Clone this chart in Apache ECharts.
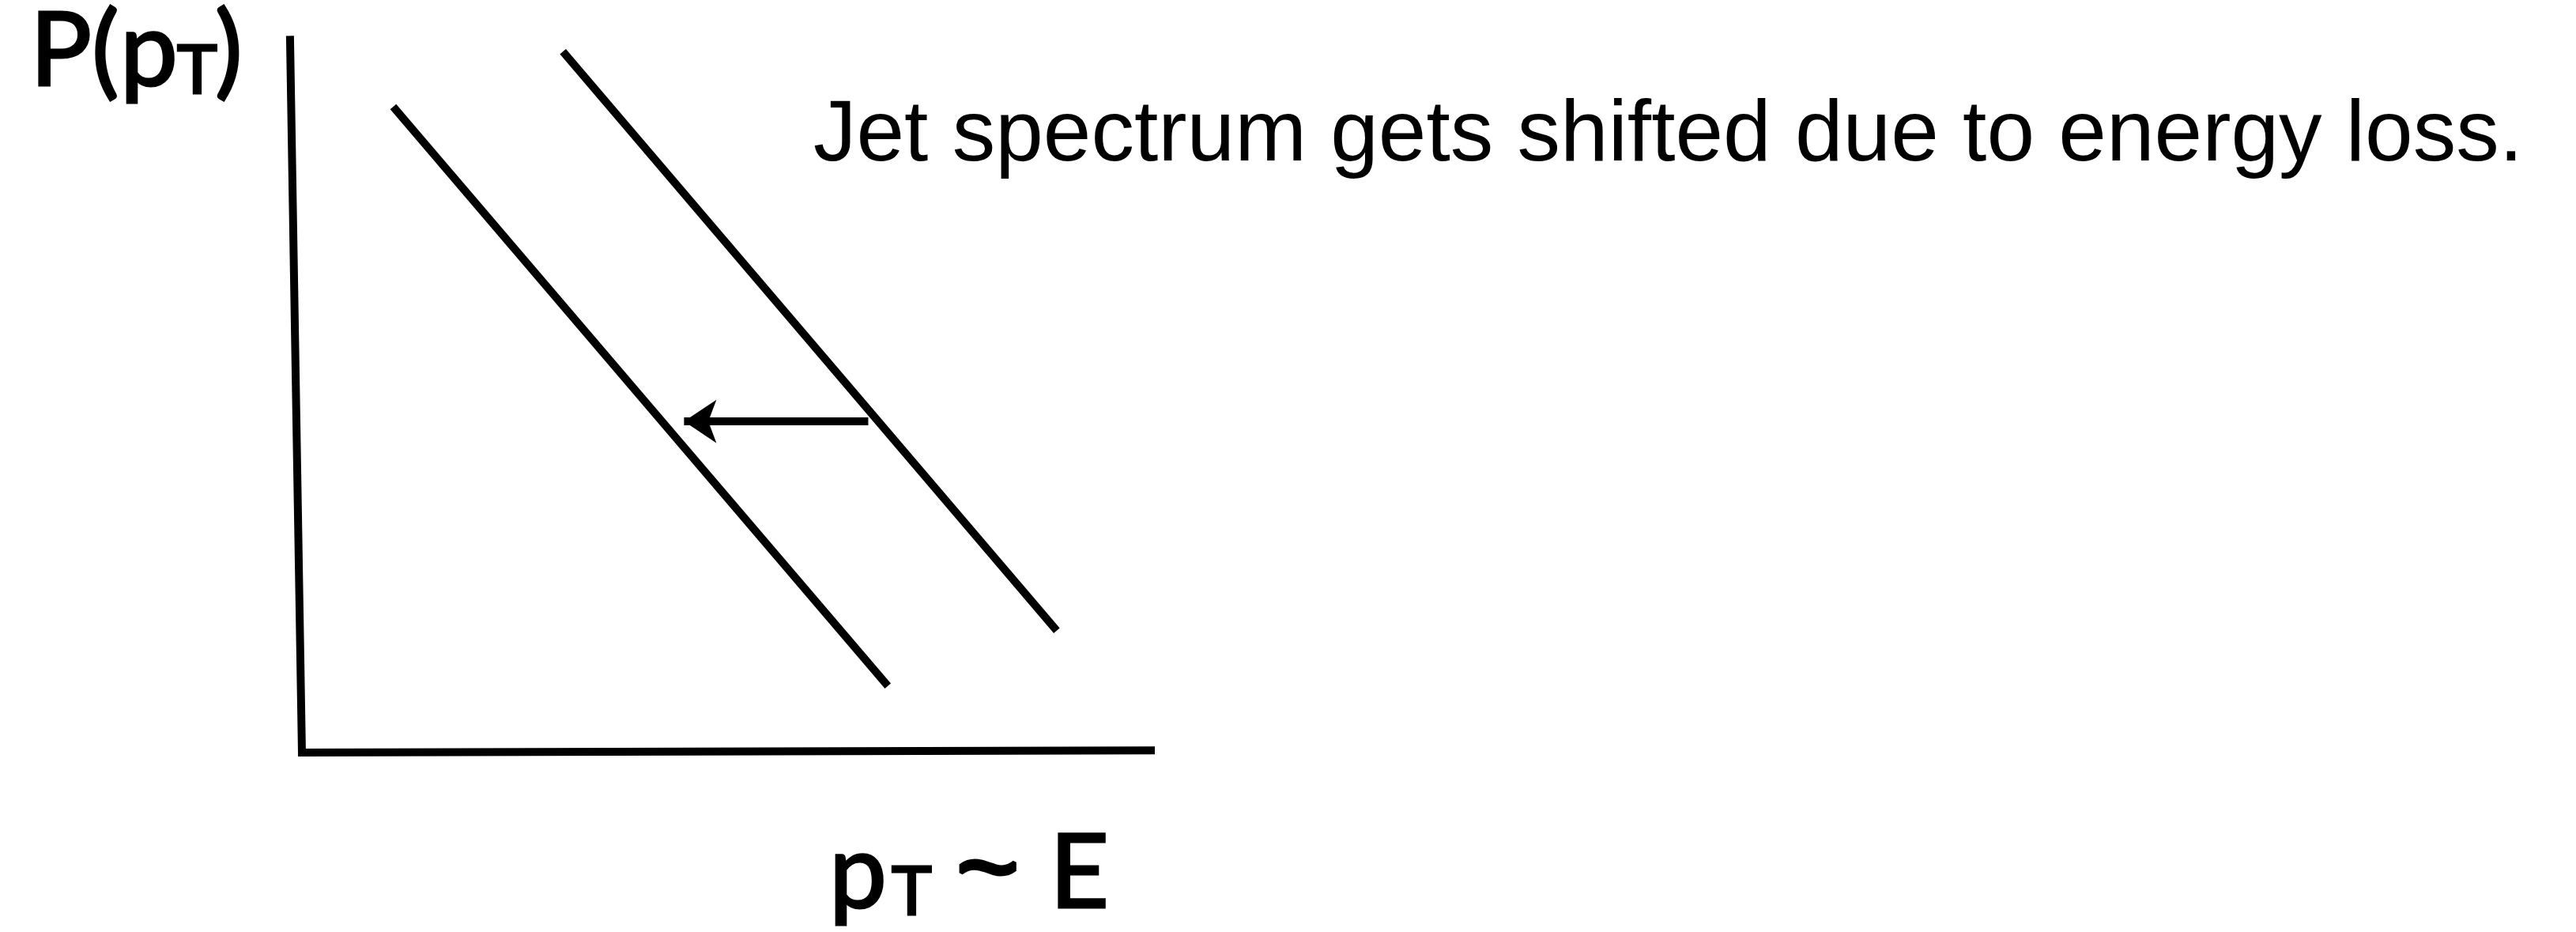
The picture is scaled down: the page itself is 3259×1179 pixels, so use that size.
<!DOCTYPE html>
<html>
<head>
<meta charset="utf-8">
<title>Jet spectrum shift</title>
<script src="https://cdn.jsdelivr.net/npm/echarts@6/dist/echarts.min.js"></script>
<style>
  html, body { margin: 0; padding: 0; background: #ffffff; }
  #chart { width: 3259px; height: 1179px; }
</style>
</head>
<body>
<div id="chart"></div>
<script>
// Sketch coordinates: pT on x, P(pT) on y, arbitrary units (origin at the axes corner).
const axisFrame = [[-1.4, 100], [0, 0], [100, 0.3]];
const spectrumOriginal = [[30.6, 97.8], [88.5, 17.0]];
const spectrumShifted = [[10.7, 90.1], [68.7, 9.3]];
const shiftArrow = [[66.4, 46.2], [44.8, 46.2]];

const headline = 'Jet spectrum gets shifted due to energy loss.';
const yLabelParts = ['P(', 'p', 'T', ')'];
const xLabelParts = ['p', 'T', '~', 'E'];

const chart = echarts.init(document.getElementById('chart'), null, { renderer: 'canvas' });

const ink = '#000000';
const strokeW = 10;
const sketchFont = 'Lato';

// Axis-label glyphs: regular weight thickened with a thin outline
function glyph(text, x, y, size, family, outline) {
  return {
    type: 'text',
    x: x,
    y: y,
    silent: true,
    style: {
      text: text,
      fill: ink,
      stroke: ink,
      lineWidth: outline === undefined ? 3 : outline,
      font: 'normal ' + size + 'px ' + (family || sketchFont),
      align: 'left',
      verticalAlign: 'middle'
    }
  };
}

const option = {
  backgroundColor: '#ffffff',
  animation: false,
  // x: 10.79 px per unit from -5; y: 9.067 px per unit up to 105
  grid: { left: 328.05, top: 0, width: 1132.95, height: 952, containLabel: false },
  xAxis: { type: 'value', min: -5, max: 100, show: false },
  yAxis: { type: 'value', min: 0, max: 105, show: false },
  series: [
    {
      name: 'axes',
      type: 'line',
      data: axisFrame,
      symbol: 'none',
      clip: false,
      lineStyle: { color: ink, width: strokeW, cap: 'butt', join: 'miter' }
    },
    {
      name: 'original',
      type: 'line',
      data: spectrumOriginal,
      symbol: 'none',
      clip: false,
      lineStyle: { color: ink, width: strokeW, cap: 'butt' }
    },
    {
      name: 'shifted',
      type: 'line',
      data: spectrumShifted,
      symbol: 'none',
      clip: false,
      lineStyle: { color: ink, width: strokeW, cap: 'butt' }
    },
    {
      name: 'shift',
      type: 'lines',
      coordinateSystem: 'cartesian2d',
      polyline: false,
      symbol: ['none', 'arrow'],
      symbolSize: [30, 41],
      lineStyle: { color: ink, width: strokeW, opacity: 1, curveness: 0, cap: 'butt' },
      data: [{ coords: shiftArrow }]
    }
  ],
  graphic: [
    {
      type: 'text',
      x: 1029,
      y: 173,
      silent: true,
      style: {
        text: headline,
        fill: ink,
        font: 'normal 109px "Liberation Sans", Arial, sans-serif',
        align: 'left',
        verticalAlign: 'middle'
      }
    },
    glyph(yLabelParts[0], 38, 66, 130),
    glyph(yLabelParts[1], 152, 66, 130),
    glyph(yLabelParts[2], 224, 90, 86),
    glyph(yLabelParts[3], 272, 66, 130),
    glyph(xLabelParts[0], 1049, 1106, 130),
    glyph(xLabelParts[1], 1128, 1129, 86),
    glyph(xLabelParts[2], 1210, 1105, 136, '"Liberation Sans"', 5),
    glyph(xLabelParts[3], 1328, 1106, 130)
  ]
};

chart.setOption(option);
</script>
</body>
</html>
